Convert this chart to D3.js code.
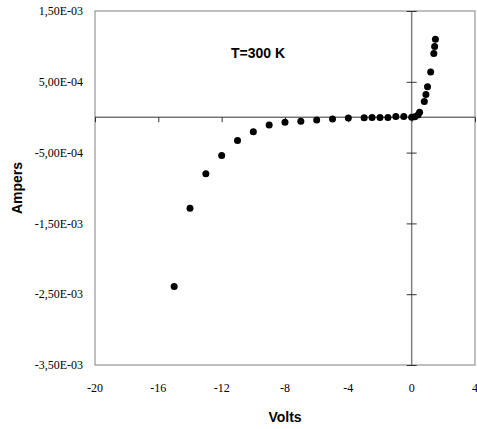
<!DOCTYPE html>
<html>
<head>
<meta charset="utf-8">
<script src="https://cdn.jsdelivr.net/npm/d3@7"></script>
<style>
  body { margin: 0; background: #fff; }
  svg { display: block; }
  .tlabel { font-family: "Liberation Serif", "Times New Roman", serif; font-size: 12px; fill: #000; }
  .title { font-family: "Liberation Sans", Arial, sans-serif; font-weight: bold; font-size: 14px; fill: #000; }
</style>
</head>
<body>
<div id="chart"></div>
<script>
// Data (volts, amps)
const volts = [-15, -14, -13, -12, -11, -10, -9, -8, -7, -6, -5, -4, -3, -2.5, -2, -1.5, -1, -0.5,
               0, 0.2, 0.4, 0.5, 0.8, 0.9, 1.0, 1.2, 1.4, 1.45, 1.5];
const amps = [-2.39e-3, -1.285e-3, -0.80e-3, -0.54e-3, -0.33e-3, -0.205e-3, -0.11e-3, -0.072e-3,
              -0.058e-3, -0.04e-3, -0.025e-3, -0.012e-3, -0.008e-3, -0.006e-3, -0.005e-3, -0.004e-3,
              0.01e-3, 0.01e-3, 0, 0.005e-3, 0.03e-3, 0.07e-3, 0.22e-3, 0.32e-3, 0.43e-3, 0.64e-3,
              0.90e-3, 1.00e-3, 1.10e-3];
const xTicks = [-20, -16, -12, -8, -4, 0, 4];
const yTicks = [1.5e-3, 5e-4, -5e-4, -1.5e-3, -2.5e-3, -3.5e-3];

const width = 477;
const height = 429;
const margin = { top: 11, right: 2, bottom: 64, left: 95 };

const svg = d3.select("#chart")
    .append("svg")
    .attr("width", width)
    .attr("height", height);

// Scales
const x = d3.scaleLinear().domain([-20, 4]).range([margin.left, width - margin.right]);
const y = d3.scaleLinear().domain([-3.5e-3, 1.5e-3]).range([height - margin.bottom, margin.top]);

// Excel style number format: 1,50E-03
function sciFormat(v) {
    const parts = v.toExponential(2).split("e");
    const exp = parseInt(parts[1], 10);
    const expStr = (exp < 0 ? "-" : "+") + String(Math.abs(exp)).padStart(2, "0");
    return parts[0].replace(".", ",") + "E" + expStr;
}

// Plot area frame
svg.append("rect")
    .attr("x", x(-20))
    .attr("y", y(1.5e-3))
    .attr("width", x(4) - x(-20))
    .attr("height", y(-3.5e-3) - y(1.5e-3))
    .attr("fill", "none")
    .attr("stroke", "#808080")
    .attr("stroke-width", 1);

// Horizontal axis through y = 0, ticks downward
const xAxis = d3.axisBottom(x)
    .tickValues(xTicks)
    .tickSize(5)
    .tickFormat("");
const gx = svg.append("g")
    .attr("transform", `translate(0,${y(0)})`)
    .call(xAxis);
gx.select(".domain").attr("stroke", "#333").attr("d", `M${x(-20)},0H${x(4)}`);
gx.selectAll(".tick line").attr("stroke", "#333");

// Vertical axis through x = 0, crossing ticks
const yAxis = d3.axisRight(y)
    .tickValues(yTicks)
    .tickSize(5)
    .tickFormat("");
const gy = svg.append("g")
    .attr("transform", `translate(${x(0)},0)`)
    .call(yAxis);
gy.select(".domain").attr("stroke", "#808080").attr("stroke-width", 1.5)
    .attr("d", `M0,${y(1.5e-3)}V${y(-3.5e-3)}`);
gy.selectAll(".tick line").attr("stroke", "#333").attr("x1", -5);

// Tick labels on the frame edges (low position)
svg.selectAll(".xlabel")
    .data(xTicks)
    .enter()
    .append("text")
    .attr("class", "xlabel tlabel")
    .attr("x", d => x(d))
    .attr("y", y(-3.5e-3) + 27)
    .attr("text-anchor", "middle")
    .text(d => d);

svg.selectAll(".ylabel")
    .data(yTicks)
    .enter()
    .append("text")
    .attr("class", "ylabel tlabel")
    .attr("x", x(-20) - 12)
    .attr("y", d => y(d))
    .attr("dy", "0.35em")
    .attr("text-anchor", "end")
    .text(d => sciFormat(d));

// Data points
const points = volts.map((v, i) => ({ v: v, a: amps[i] }));
svg.selectAll("circle")
    .data(points)
    .enter()
    .append("circle")
    .attr("cx", d => x(d.v))
    .attr("cy", d => y(d.a))
    .attr("r", 3.5)
    .style("fill", "#000");

// Annotation and axis titles
svg.append("text")
    .attr("class", "title")
    .attr("x", 258)
    .attr("y", 58)
    .attr("text-anchor", "middle")
    .text("T=300 K");

svg.append("text")
    .attr("class", "title")
    .attr("x", (x(-20) + x(4)) / 2)
    .attr("y", 422)
    .attr("text-anchor", "middle")
    .text("Volts");

svg.append("text")
    .attr("class", "title")
    .attr("transform", `translate(22,${(y(1.5e-3) + y(-3.5e-3)) / 2}) rotate(-90)`)
    .attr("text-anchor", "middle")
    .text("Ampers");
</script>
</body>
</html>
